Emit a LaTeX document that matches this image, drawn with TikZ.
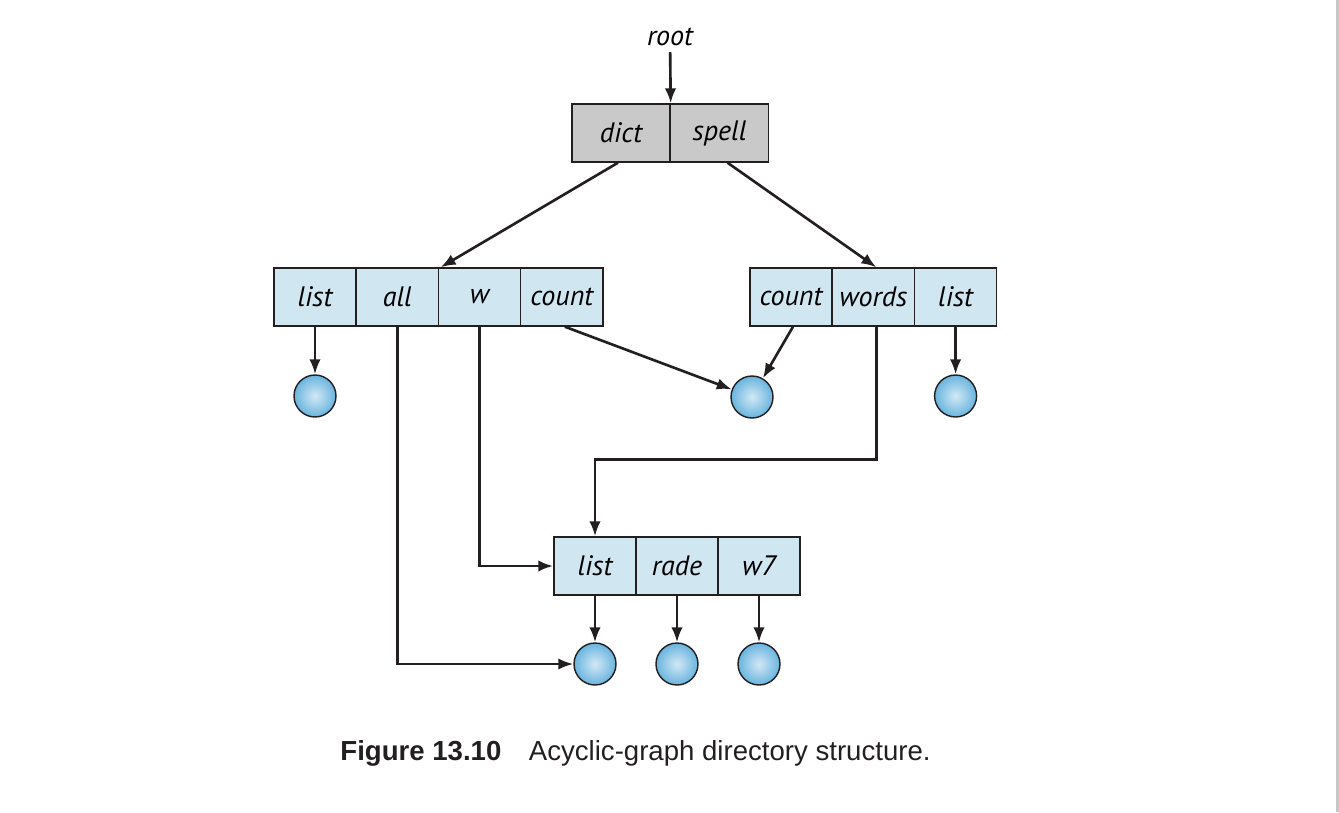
\documentclass[tikz,border=0pt]{standalone}
\usepackage{fontspec}
\setmainfont{Liberation Sans}
\newfontfamily\cellfont{PT Sans}
\usetikzlibrary{calc}
\usetikzlibrary{arrows.meta}
\definecolor{cellblue}{RGB}{208,230,240}
\definecolor{cellgray}{RGB}{201,201,201}
\definecolor{ballblue}{RGB}{105,180,222}
\definecolor{lineblack}{RGB}{35,31,32}

\begin{document}
\begin{tikzpicture}[x=0.02cm,y=-0.02cm,
    cell/.style={draw=lineblack,line width=0.8pt,fill=cellblue,
      minimum width=1.645cm,minimum height=1.16cm,inner sep=0pt,
      font=\cellfont\itshape\fontsize{16}{19}\selectfont},
    topcell/.style={cell,fill=cellgray,minimum width=1.96cm},
    file/.style={circle,draw=lineblack,line width=0.8pt,minimum size=0.84cm,
      inner sep=0pt,inner color=white!70!ballblue,outer color=ballblue},
    link/.style={-{Latex[length=8.5pt,width=6.5pt]},line width=1.5pt,color=lineblack}]
  \useasboundingbox (0,0) rectangle (1339,812);
  \fill[black!22] (1336,0) rectangle (1339,812);

  % root directory
  \node[font=\cellfont\itshape\fontsize{16}{19}\selectfont] (root) at (670,37) {root};
  \node[topcell] (dict) at (621,133) {dict};
  \node[topcell] (spell) at (719.5,133) {spell};

  % second level
  \node[cell] (dlist) at (315,297) {list};
  \node[cell] (all) at (397.3,297) {all};
  \node[cell] (w) at (479.5,297) {w};
  \node[cell] (dcount) at (561.8,297) {count};
  \node[cell] (scount) at (791,297) {count};
  \node[cell] (words) at (873.3,297) {words};
  \node[cell] (slist) at (955.6,297) {list};

  % shared subdirectory
  \node[cell] (wlist) at (595,566) {list};
  \node[cell] (rade) at (677,566) {rade};
  \node[cell] (wseven) at (759,566) {w7};

  % files
  \node[file] (f1) at (315,396) {};
  \node[file] (f2) at (752,397) {};
  \node[file] (f3) at (955.6,396) {};
  \node[file] (f4) at (595,664) {};
  \node[file] (f5) at (677,664) {};
  \node[file] (f6) at (759,664) {};

  \draw[link] (root) -- (dict.north east);
  \draw[link] ($(dict.south)+(-3,0)$) -- ($(w.north west)+(3,0)$);
  \draw[link] ($(spell.south)+(8,0)$) -- ($(words.north)+(3,0)$);
  \draw[link] (dlist.south) -- (f1.north);
  \draw[link] (all.south) |- (f4.west);
  \draw[link] (w.south) |- (wlist.west);
  \draw[link] ($(dcount.south)+(3,0)$) -- (f2);
  \draw[link] ($(scount.south)+(2,0)$) -- (f2);
  \draw[link] ($(words.south)+(3,0)$) -- ++(0,133) -| (wlist.north);
  \draw[link] (slist.south) -- (f3.north);
  \draw[link] (wlist.south) -- (f4.north);
  \draw[link] (rade.south) -- (f5.north);
  \draw[link] (wseven.south) -- (f6.north);

  \node[font=\fontsize{15.7}{19}\selectfont,color=lineblack] (caption) at (635.5,753)
    {\textbf{Figure 13.10}\quad Acyclic-graph directory structure.};
\end{tikzpicture}
\end{document}
